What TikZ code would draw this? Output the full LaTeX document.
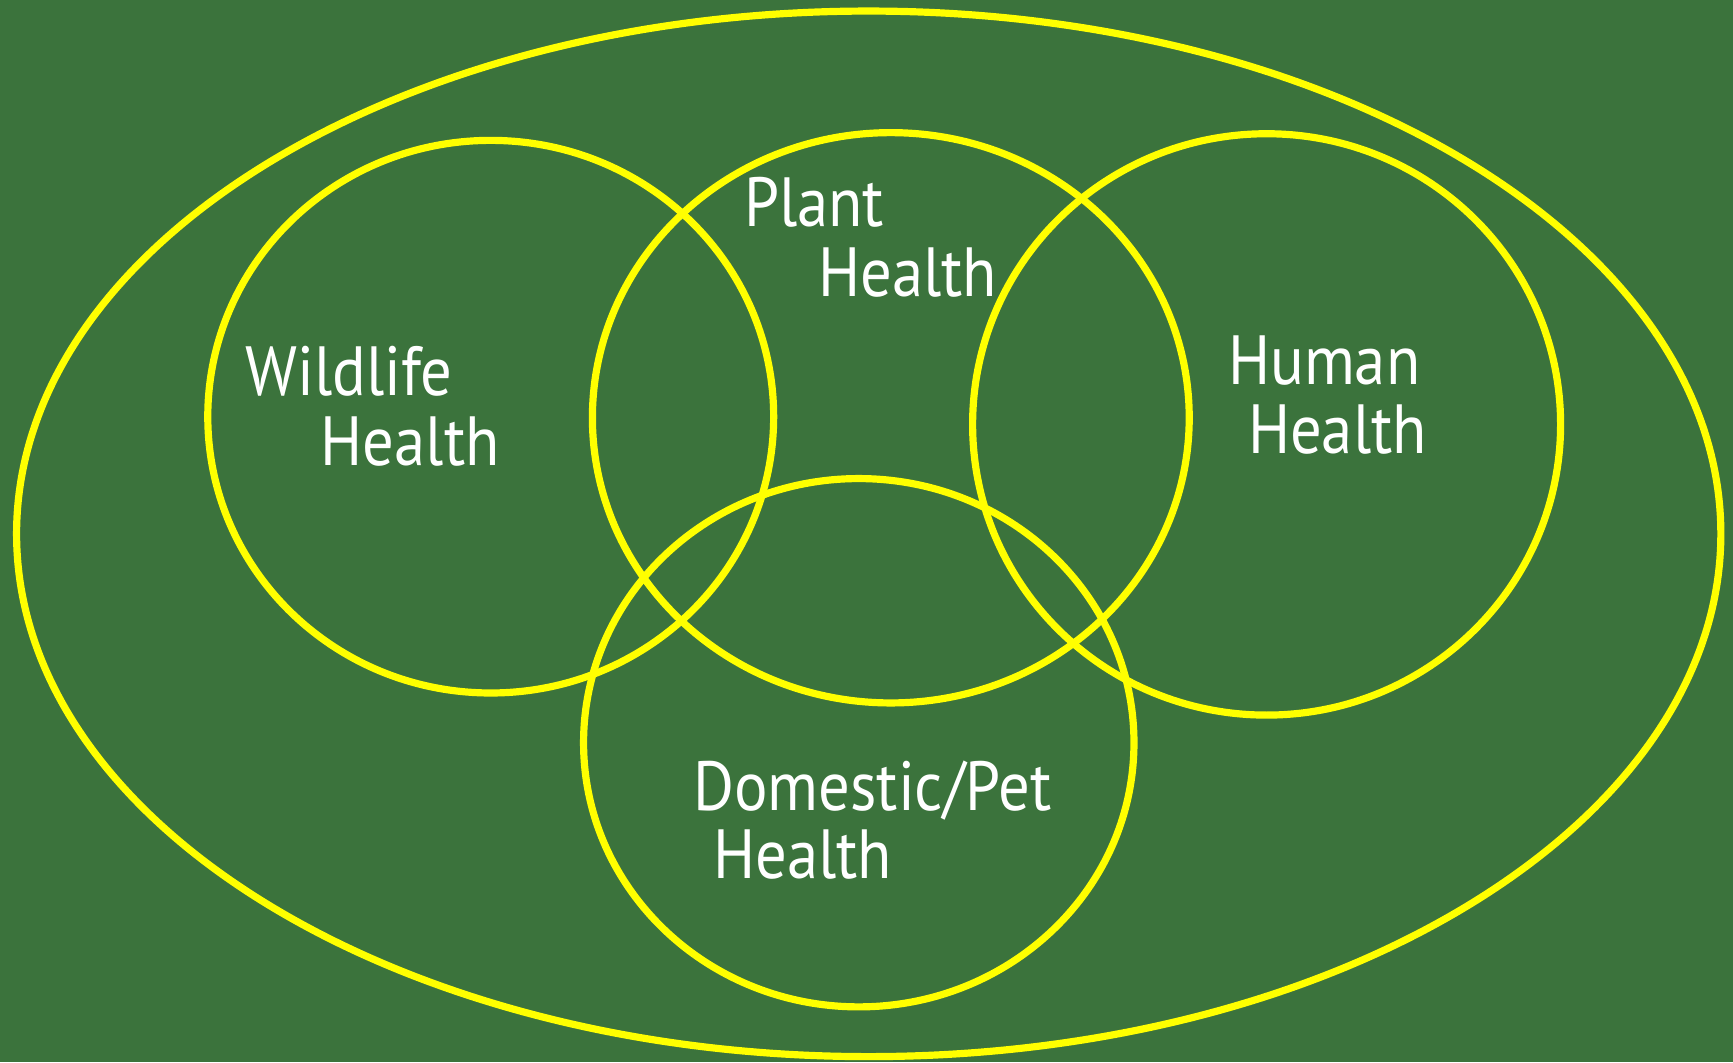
\documentclass[tikz,border=0pt]{standalone}
\usepackage{fontspec}
\setmainfont[FakeStretch=0.9]{PT Sans}
\definecolor{board}{RGB}{59,115,60}
\definecolor{rim}{RGB}{255,255,0}
\begin{document}
\begin{tikzpicture}[x=1pt,y=-1pt,
  ring/.style={draw=rim, line width=6.5pt},
  lbl/.style={text=white, anchor=base west, inner sep=0pt, font=\fontsize{63}{70}\selectfont}]
  \fill[board] (0,0) rectangle (1568,961);
  \useasboundingbox (0,0) rectangle (1568,961);

  \draw[ring] (786,483) ellipse (771 and 473);
  \draw[ring] (444,377) ellipse (256 and 250);
  \draw[ring] (806,378) ellipse (270 and 258);
  \draw[ring] (1146,384) ellipse (266 and 263);
  \draw[ring] (777,672) ellipse (249 and 239);

  \node[lbl] (plant1) at (673,205) {Plant};
  \node[lbl] (plant2) at (740,268) {Health};
  \node[lbl] (wild1) at (222,358) {Wildlife};
  \node[lbl] (wild2) at (290,421) {Health};
  \node[lbl] (human1) at (1111,348) {Human};
  \node[lbl] (human2) at (1129,410) {Health};
  \node[lbl] (pet1) at (627,733) {Domestic/Pet};
  \node[lbl] (pet2) at (645,795) {Health};
\end{tikzpicture}
\end{document}
